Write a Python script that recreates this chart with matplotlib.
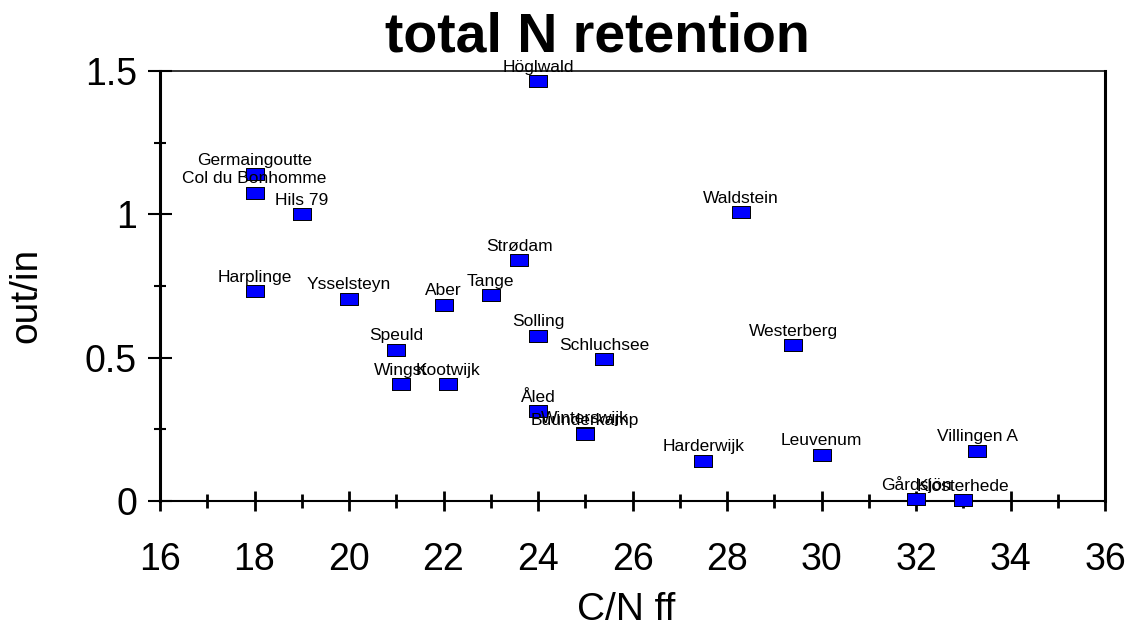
import matplotlib
matplotlib.use("Agg")
import matplotlib.pyplot as plt
from matplotlib.ticker import MultipleLocator

plt.rcParams['font.family'] = ['Liberation Sans', 'DejaVu Sans']

sites = ["Höglwald", "Germaingoutte", "Col du Bonhomme", "Hils 79", "Harplinge",
         "Ysselsteyn", "Speuld", "Wingst", "Kootwijk", "Aber", "Tange", "Strødam",
         "Solling", "Schluchsee", "Åled", "Winterswijk", "Buunderkamp",
         "Harderwijk", "Waldstein", "Westerberg", "Leuvenum", "Villingen A",
         "Gårdsjön", "Klosterhede"]
cn_ff = [24.0, 18.0, 18.0, 19.0, 18.0,
         20.0, 21.0, 21.1, 22.1, 22.0, 23.0, 23.6,
         24.0, 25.4, 24.0, 25.0, 25.0,
         27.5, 28.3, 29.4, 30.0, 33.3,
         32.0, 33.0]
out_in = [1.465, 1.14, 1.076, 1.0, 0.732,
          0.705, 0.527, 0.408, 0.408, 0.684, 0.718, 0.84,
          0.576, 0.495, 0.314, 0.238, 0.232,
          0.141, 1.008, 0.544, 0.162, 0.176,
          0.007, 0.002]

fig = plt.figure(figsize=(11.25, 6.23), dpi=100)
ax = fig.add_axes([160/1125, 1-501/623, (1105-160)/1125, (501-71)/623])

rect = [(-1, -0.667), (1, -0.667), (1, 0.667), (-1, 0.667), (-1, -0.667)]
ax.plot(cn_ff, out_in, linestyle='none', marker=rect, markersize=13,
        markerfacecolor='#0000ff', markeredgecolor='black', markeredgewidth=0.7,
        clip_on=False, zorder=3)
for name, x, y in zip(sites, cn_ff, out_in):
    ax.annotate(name, (x, y), xytext=(0, 6.8), textcoords='offset points',
                ha='center', va='baseline', fontsize=12.5, zorder=4,
                annotation_clip=False)

ax.set_xlim(16, 36)
ax.set_ylim(0, 1.5)
ax.xaxis.set_major_locator(MultipleLocator(2))
ax.xaxis.set_minor_locator(MultipleLocator(1))
ax.yaxis.set_major_locator(MultipleLocator(0.5))
ax.yaxis.set_minor_locator(MultipleLocator(0.25))
ax.set_yticks([0, 0.5, 1, 1.5])
ax.set_yticklabels(['0', '0.5', '1', '1.5'])

ax.tick_params(axis='x', which='major', direction='inout', length=15, width=2.0,
               pad=22, labelsize=27)
ax.tick_params(axis='x', which='minor', direction='inout', length=10, width=2.0)
ax.tick_params(axis='y', which='major', direction='inout', length=17, width=1.5,
               pad=8, labelsize=27)
ax.tick_params(axis='y', which='minor', direction='inout', length=9, width=1.5)

ax.spines['left'].set_linewidth(2.2)
ax.spines['right'].set_linewidth(2.2)
ax.spines['bottom'].set_linewidth(1.5)
ax.spines['top'].set_linewidth(1.1)

fig.text(597/1125, 1-52/623, "total N retention", fontsize=40, fontweight='bold',
         ha='center', va='baseline')
fig.text(626/1125, 1-620/623, "C/N ff", fontsize=28, ha='center', va='baseline')
fig.text(44/1125, 1-295/623, "out/in", fontsize=28, rotation=90,
         ha='right', va='center')

fig.savefig("out.png", dpi=100)
